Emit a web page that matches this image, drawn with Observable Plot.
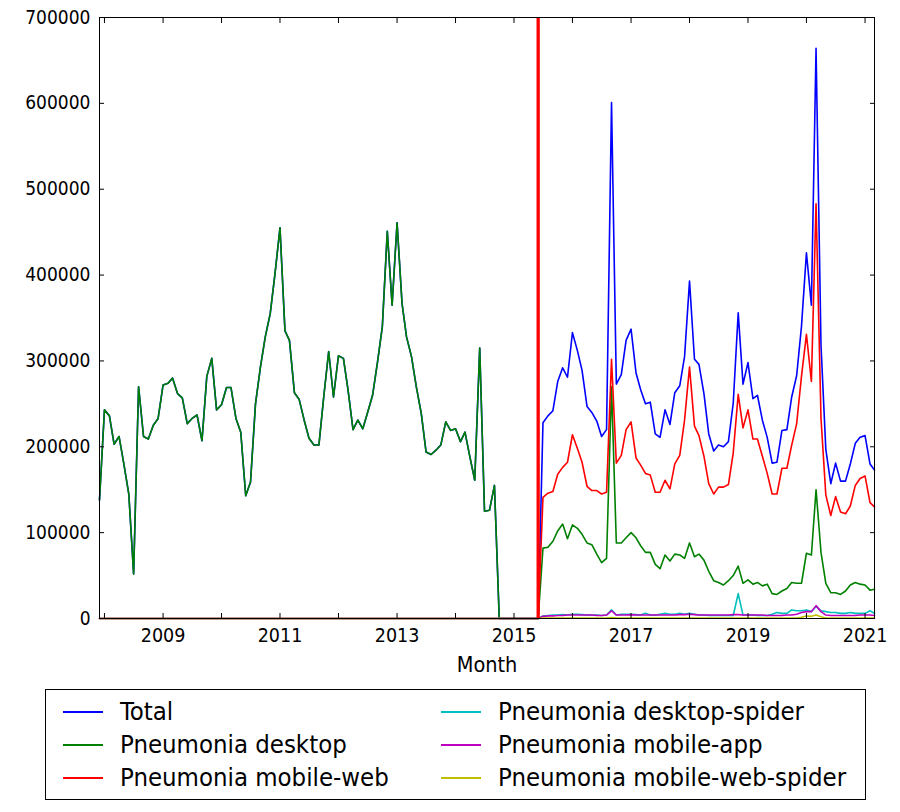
<!DOCTYPE html>
<html><head><meta charset="utf-8">
<script src="https://cdn.jsdelivr.net/npm/d3@7"></script>
<script src="https://cdn.jsdelivr.net/npm/@observablehq/plot@0.6"></script>
<style>
body{margin:0;background:#fff;font-family:"DejaVu Sans",sans-serif;}
#wrap{position:relative;width:900px;height:812px;overflow:hidden;}
#legend{position:absolute;left:45px;top:689px;width:821px;height:111px;border:1px solid #000;box-sizing:border-box;background:#fff;}
.lab{position:absolute;font-family:"DejaVu Sans Condensed","DejaVu Sans",sans-serif;font-stretch:condensed;font-size:25.5px;line-height:28px;white-space:nowrap;color:#000;}
.sw{position:absolute;height:2px;}
svg text{font-family:"DejaVu Sans Condensed","DejaVu Sans",sans-serif;font-stretch:condensed;}
</style></head><body><div id="wrap"><div id="chart"></div><div id="legend"></div></div>
<script>
// ---- data (thousands of views per month) ----
const firstMonth = "2007-12-01";
const lastMonth = "2021-03-01";
const legacyEnd = "2014-09-01";     // last month of the legacy desktop series
const apiStart = "2015-07-01";      // first month of the new series
const breakMonth = "2015-06-01";    // red vertical marker
const seriesNames = ["Total","Pneumonia desktop","Pneumonia mobile-web","Pneumonia desktop-spider","Pneumonia mobile-app","Pneumonia mobile-web-spider"];
const seriesColors = ["#0000ff","#008000","#ff0000","#00bfbf","#bf00bf","#bfbf00"];

// legacy desktop (= total), Dec 2007 .. Sep 2014
const legacyDesktop = [138,243,236,203,212,180,145,52,270,212,209,225,233,272,274,280,262,257,227,233,237,207,282,303,
243,249,269,269,233,217,143,159,250,293,328,355,402,455,335,324,263,255,231,210,202,202,258,311,
258,306,303,266,220,231,221,240,260,299,340,451,365,461,367,328,305,270,239,194,191,196,202,229,
219,221,206,217,188,161,315,125,126,155];

// Jul 2015 .. Mar 2021
const totalNew = [228,236,242,276,292,281,333,312,289,247,240,230,212,220,601,273,284,324,337,286,267,250,252,215,211,243,226,263,271,305,
393,302,296,262,215,195,202,200,206,251,356,273,298,256,260,231,211,181,182,219,220,258,283,340,426,365,664,318,197,157,181,160,160,180,204,211,213,180,173];
const desktopNew = [82,83,90,102,110,93,109,105,98,88,86,75,65,70,270,88,88,94,100,94,85,77,77,63,58,74,67,75,74,70,
88,72,75,68,55,44,42,39,44,50,61,41,45,40,42,38,40,29,28,32,35,42,41,41,76,74,150,77,41,30,30,28,32,39,42,40,39,33,34];
const mobileWebNew = [141,146,148,168,176,182,214,198,182,154,149,149,145,147,302,181,190,220,229,187,179,169,167,147,147,161,151,180,190,231,
293,224,213,189,157,145,153,153,156,193,261,222,243,209,209,189,169,145,145,175,175,202,227,282,331,276,483,233,144,120,142,124,122,131,155,163,166,135,130];
const desktopSpiderNew = [3,3.5,4,4,4.5,4,5,5,4.5,4,4,4,3.5,4,10,4,5,5,5,4.5,4,6,4,4,5,6,5,5,6,5,
6,5,4,4,3.5,3.5,3.5,3.5,3.5,3.5,29,4,4,4,3.5,3.5,3.5,5,7,6,6,10,9,9,10,8,14,9,8,7,7,6,6,7,6,6,6,9,6];
const mobileAppNew = [2.5,3,3,3.5,3.5,4,4,4,4,4,4,3.5,3.5,4,9,4,4,4,4.5,4,4,4,4,4,4,4,4,4,4.5,4.5,
5,4.5,4,4,4,4,4,4,4,4.5,4.5,4,4,4,4,4,3.5,3.5,3.5,3.5,4,4,5,7,8,8,15,8,4,3.5,3.5,3.5,3.5,3.5,3.5,4,4,4,3.5];
const mobileWebSpiderNew = [0.5,0.5,0.5,0.5,0.5,0.5,0.5,0.5,0.5,0.5,0.5,0.5,0.5,0.5,1,0.5,0.5,0.5,0.5,0.5,0.5,0.5,0.5,0.5,0.5,0.5,0.5,0.5,0.5,0.5,
0.5,0.5,0.5,0.5,0.5,0.5,0.5,0.5,0.5,0.5,0.5,0.5,0.5,0.5,0.5,0.5,0.5,0.5,0.5,0.5,0.5,0.5,0.5,1.5,3,2.5,4,2,0.5,0.5,0.5,0.5,0.5,0.5,0.5,0.5,0.5,0.5,0.5];

const yTickValues = [0,100000,200000,300000,400000,500000,600000,700000];
const yearTicks = [2008,2009,2010,2011,2012,2013,2014,2015,2016,2017,2018,2019,2020,2021];

// ---- build table ----
const months = d3.utcMonth.range(new Date(firstMonth), d3.utcMonth.offset(new Date(lastMonth), 1));
const tLegEnd = +new Date(legacyEnd), tApi = +new Date(apiStart);
const newSeries = [totalNew, desktopNew, mobileWebNew, desktopSpiderNew, mobileAppNew, mobileWebSpiderNew];
const legacyOf = [legacyDesktop, legacyDesktop, null, null, null, null];
const rows = seriesNames.map((name, s) => months.map((d, i) => {
  let v = 0;
  if (+d <= tLegEnd && legacyOf[s]) v = legacyOf[s][i];
  else if (+d >= tApi) v = newSeries[s][d3.utcMonth.count(new Date(apiStart), d)];
  return {series: name, date: d, value: v * 1000};
}));

const lines = rows.map((r, s) => Plot.line(r, {x: "date", y: "value", stroke: seriesColors[s], strokeWidth: 1.6}));
const yearDates = yearTicks.map(y => new Date(Date.UTC(y, 0, 1)));

const chart = Plot.plot({
  width: 900, height: 680,
  marginLeft: 99, marginRight: 26, marginTop: 17, marginBottom: 62,
  x: {type: "utc", domain: [months[0], months[months.length - 1]]},
  y: {domain: [0, 700000]},
  style: {fontFamily: "DejaVu Sans Condensed, DejaVu Sans", fontSize: "19px", color: "#000", background: "#fff", overflow: "visible"},
  marks: [
    ...lines,
    Plot.ruleX([new Date(breakMonth)], {stroke: "#ff0000", strokeWidth: 3.3}),
    Plot.frame({stroke: "#000", strokeWidth: 1}),
    Plot.axisY(yTickValues, {anchor: "left", tickSize: -5, tickPadding: 14, tickFormat: d3.format("d"), label: null, fontSize: 19}),
    Plot.axisY(yTickValues, {anchor: "right", tickSize: -5, tickFormat: () => "", label: null}),
    Plot.axisX(yearDates, {anchor: "bottom", tickSize: -5, tickPadding: 15, tickFormat: d => (d.getUTCFullYear() % 2 ? String(d.getUTCFullYear()) : ""), label: null, fontSize: 19.5}),
    Plot.axisX(yearDates, {anchor: "top", tickSize: -5, tickFormat: () => "", label: null}),
    Plot.text(["Month"], {frameAnchor: "bottom", dy: 53, fontSize: 21.5})
  ]
});
document.getElementById("chart").appendChild(chart);

// ---- legend ----
const legend = document.getElementById("legend");
const cols = [{sx: 17, tx: 74}, {sx: 395, tx: 452}];
seriesNames.forEach((name, s) => {
  const c = cols[Math.floor(s / 3)], r = s % 3;
  const cy = 22 + r * 33;
  const sw = document.createElement("div");
  sw.className = "sw"; sw.style.left = c.sx + "px"; sw.style.width = "40px"; sw.style.top = (cy - 1) + "px";
  sw.style.background = seriesColors[s];
  legend.appendChild(sw);
  const t = document.createElement("div");
  t.className = "lab"; t.style.left = c.tx + "px"; t.style.top = (cy - 15) + "px"; t.textContent = name;
  legend.appendChild(t);
});
</script></body></html>
